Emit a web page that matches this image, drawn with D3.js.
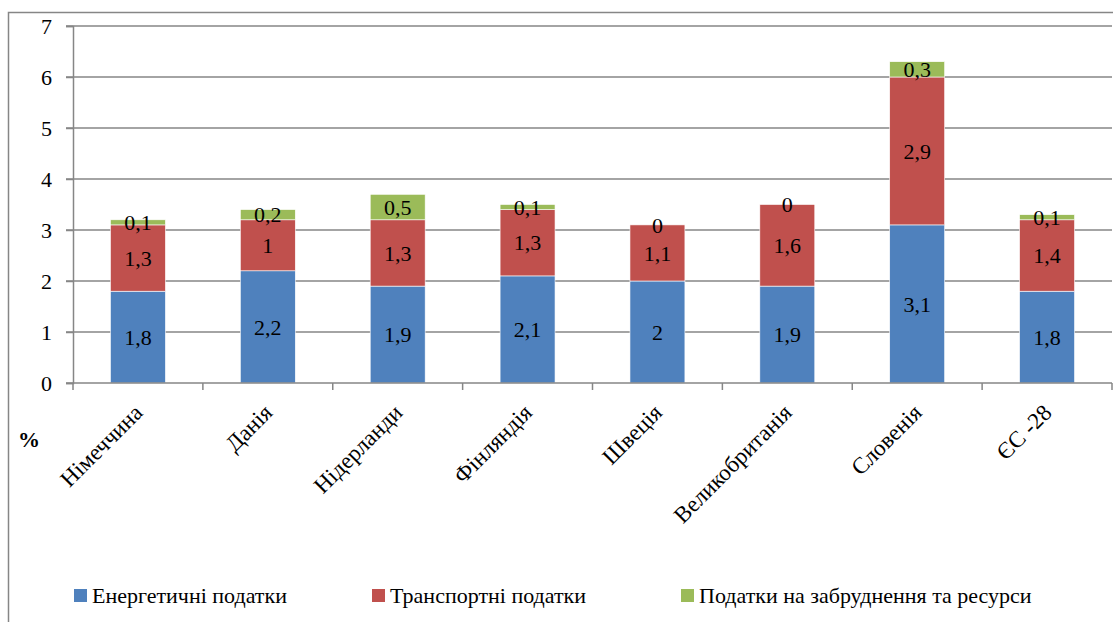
<!DOCTYPE html>
<html>
<head>
<meta charset="utf-8">
<script src="https://cdn.jsdelivr.net/npm/d3@7"></script>
<style>
  body { margin: 0; background: #fff; }
  svg text { font-family: "Liberation Serif", Tinos, Times, "DejaVu Serif", serif; }
</style>
</head>
<body>
<div id="main"></div>
<script>
// data
var countries = ["Німеччина", "Данія", "Нідерланди", "Фінляндія", "Швеція", "Великобританія", "Словенія", "ЄС -28"];
var energy    = [1.8, 2.2, 1.9, 2.1, 2.0, 1.9, 3.1, 1.8];
var transport = [1.3, 1.0, 1.3, 1.3, 1.1, 1.6, 2.9, 1.4];
var pollution = [0.1, 0.2, 0.5, 0.1, 0.0, 0.0, 0.3, 0.1];
var seriesNames = ["Енергетичні податки", "Транспортні податки", "Податки на забруднення та ресурси"];
var colors = ["#4F81BD", "#C0504D", "#9BBB59"];
var yTicks = [0, 1, 2, 3, 4, 5, 6, 7];

var FONT = "'Liberation Serif', Tinos, Times, 'DejaVu Serif', serif";

var W = 1113, H = 622;
var margin = {top: 26, right: 1, bottom: 239, left: 73},
    width = W - margin.left - margin.right,
    height = H - margin.top - margin.bottom;

var svg = d3.select("#main")
  .append("svg")
    .attr("width", W)
    .attr("height", H)
    .attr("font-family", FONT);

// chart border (right / bottom edges fall outside the picture)
svg.append("rect")
  .attr("x", 8.5).attr("y", 12.5)
  .attr("width", W + 20).attr("height", H + 20)
  .attr("fill", "none")
  .attr("stroke", "#868686")
  .attr("stroke-width", 1.5);

var g = svg.append("g")
  .attr("transform", "translate(" + margin.left + "," + margin.top + ")");

var table = countries.map(function(c, i) {
  return {country: c, e: energy[i], t: transport[i], p: pollution[i]};
});
var stack = d3.stack().keys(["e", "t", "p"])(table);

var x = d3.scaleBand()
  .domain(countries)
  .range([0, width])
  .paddingInner(0.577)
  .paddingOuter(0.2885);

var y = d3.scaleLinear()
  .domain([0, 7])
  .range([height, 0]);

// gridlines
g.append("g")
  .selectAll("line")
  .data(yTicks.slice(1))
  .enter()
  .append("line")
    .attr("x1", -7).attr("x2", width)
    .attr("y1", function(d) { return y(d); })
    .attr("y2", function(d) { return y(d); })
    .attr("stroke", "#868686")
    .attr("stroke-width", 1.5);

// y axis
var yAxis = g.append("g")
  .call(d3.axisLeft(y).tickValues(yTicks).tickSize(7).tickPadding(14).tickFormat(d3.format("d")));
yAxis.attr("font-family", FONT);
yAxis.selectAll("path, line").attr("stroke", "#868686").attr("stroke-width", 1.5);
yAxis.selectAll("text")
  .attr("font-size", 22)
  .attr("fill", "#000");

// bars
var layers = g.selectAll(".layer")
  .data(stack)
  .enter()
  .append("g")
    .attr("fill", function(d, i) { return colors[i]; });

layers.selectAll("rect")
  .data(function(d) { return d; })
  .enter()
  .append("rect")
    .attr("x", function(d) { return x(d.data.country); })
    .attr("y", function(d) { return y(d[1]); })
    .attr("width", x.bandwidth())
    .attr("height", function(d) { return y(d[0]) - y(d[1]); })
    .attr("stroke", "#fff")
    .attr("stroke-width", 0.6);

// value labels
layers.selectAll("text")
  .data(function(d) { return d; })
  .enter()
  .append("text")
    .attr("x", function(d) { return x(d.data.country) + x.bandwidth() / 2; })
    .attr("y", function(d) { return (y(d[0]) + y(d[1])) / 2; })
    .attr("dy", "0.35em")
    .attr("text-anchor", "middle")
    .attr("font-size", 22)
    .attr("fill", "#000")
    .text(function(d) { return String(+(d[1] - d[0]).toFixed(1)).replace(".", ","); });

// x axis
var xTickPos = d3.range(countries.length + 1).map(function(i) { return i * x.step(); });
var xAxis = g.append("g")
  .attr("transform", "translate(0," + height + ")");
xAxis.append("line")
  .attr("x1", -7).attr("x2", width)
  .attr("stroke", "#868686").attr("stroke-width", 1.5);
xAxis.selectAll(".tick")
  .data(xTickPos)
  .enter()
  .append("line")
    .attr("x1", function(d) { return d; })
    .attr("x2", function(d) { return d; })
    .attr("y1", 0).attr("y2", 7)
    .attr("stroke", "#868686").attr("stroke-width", 1.5);

xAxis.selectAll(".lbl")
  .data(countries)
  .enter()
  .append("text")
    .attr("text-anchor", "end")
    .attr("font-size", 23)
    .attr("fill", "#000")
    .attr("transform", function(d) {
      return "translate(" + (x(d) + x.bandwidth() / 2 + 6) + ",31) rotate(-45)";
    })
    .text(function(d) { return d; });

// % label
svg.append("text")
  .attr("x", 18).attr("y", 447)
  .attr("font-size", 22)
  .attr("font-weight", "bold")
  .text("%");

// legend
var legendX = [74, 372, 681];
var legend = svg.append("g")
  .selectAll("g")
  .data(seriesNames)
  .enter()
  .append("g")
    .attr("transform", function(d, i) { return "translate(" + legendX[i] + ",589)"; });
legend.append("rect")
  .attr("width", 13).attr("height", 13)
  .attr("fill", function(d, i) { return colors[i]; });
legend.append("text")
  .attr("x", 18).attr("y", 14)
  .attr("font-size", 22)
  .attr("fill", "#000")
  .text(function(d) { return d; });
</script>
</body>
</html>
